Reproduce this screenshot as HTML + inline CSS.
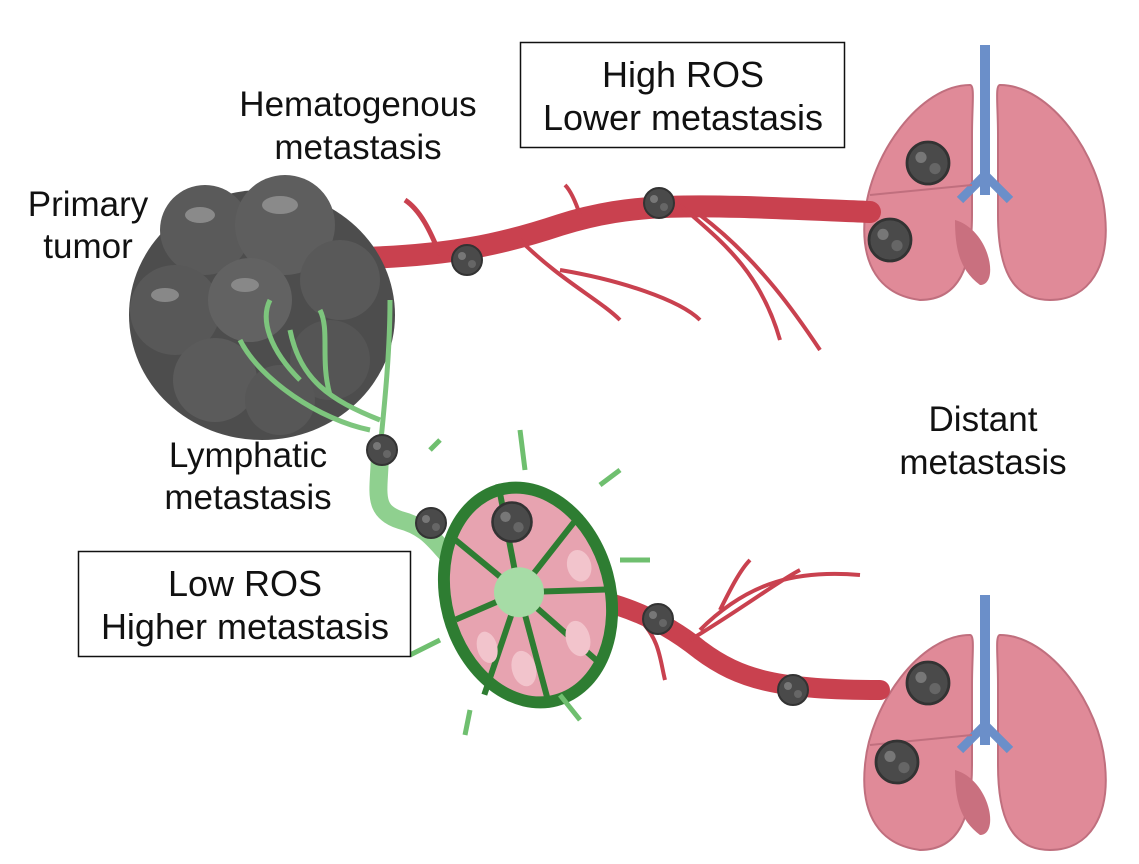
<!DOCTYPE html>
<html><head><meta charset="utf-8"><style>
html,body{margin:0;padding:0;background:#fff;}
svg{display:block;}
text{font-family:"Liberation Sans",Arial,sans-serif;fill:#111;}
</style></head><body>
<svg width="1139" height="864" viewBox="0 0 1139 864" xmlns="http://www.w3.org/2000/svg">
<defs>
<g id="lung">
  <rect x="120" y="0" width="10" height="150" fill="#6b8fc9"/>
  <path d="M110 40 C60 40 10 110 5 170 C0 220 20 250 60 255 C100 255 112 220 112 170 L112 90 C112 60 115 40 110 40 Z" fill="#e08a98" stroke="#c06f7e" stroke-width="2"/>
  <path d="M140 40 C190 40 240 110 245 170 C250 220 230 255 190 255 C150 255 138 220 138 170 L138 90 C138 60 135 40 140 40 Z" fill="#e08a98" stroke="#c06f7e" stroke-width="2"/>
  <path d="M125 130 L100 155 M125 130 L150 155" stroke="#6b8fc9" stroke-width="9" fill="none"/>
  <path d="M95 175 C130 185 140 240 120 240 C100 225 95 205 95 175Z" fill="#c9707f"/>
  <path d="M10 150 L112 140" stroke="#c06f7e" stroke-width="2"/>
</g>
<g id="cell">
  <circle r="15" fill="#4a4a4a"/><circle r="15" fill="none" stroke="#333" stroke-width="2"/>
  <circle cx="-5" cy="-4" r="4" fill="#777"/><circle cx="5" cy="4" r="4" fill="#666"/>
</g>
</defs>

<g transform="translate(860,45)"><use href="#lung"/></g>
<g transform="translate(860,595)"><use href="#lung"/></g>

<path d="M365 258 C450 255 500 245 560 225 C640 200 700 205 870 212" stroke="#c9414f" stroke-width="22" fill="none" stroke-linecap="round"/>
<path d="M440 255 C430 230 420 210 405 200" stroke="#c9414f" stroke-width="5" fill="none"/>
<path d="M520 240 C560 280 600 300 620 320 M560 270 C620 280 680 300 700 320 M580 215 C575 200 570 190 565 185 M680 205 C720 240 760 270 780 340 M700 215 C760 260 800 320 820 350" stroke="#c9414f" stroke-width="4" fill="none"/>

<path d="M510 585 C600 595 650 610 700 650 C740 680 780 690 880 690" stroke="#c9414f" stroke-width="20" fill="none" stroke-linecap="round"/>
<path d="M640 620 C660 640 660 660 665 680 M690 640 C740 610 780 580 800 570 M700 630 C750 580 800 570 860 575 M720 610 C730 590 740 570 750 560" stroke="#c9414f" stroke-width="4" fill="none"/>

<g>
<ellipse cx="262" cy="315" rx="133" ry="125" fill="#4d4d4d"/>
<circle cx="205" cy="230" r="45" fill="#5a5a5a"/><circle cx="285" cy="225" r="50" fill="#5e5e5e"/>
<circle cx="340" cy="280" r="40" fill="#595959"/><circle cx="175" cy="310" r="45" fill="#585858"/>
<circle cx="250" cy="300" r="42" fill="#626262"/><circle cx="330" cy="360" r="40" fill="#555"/>
<circle cx="215" cy="380" r="42" fill="#5b5b5b"/><circle cx="280" cy="400" r="35" fill="#575757"/>
<ellipse cx="200" cy="215" rx="15" ry="8" fill="#8a8a8a"/><ellipse cx="280" cy="205" rx="18" ry="9" fill="#8a8a8a"/>
<ellipse cx="245" cy="285" rx="14" ry="7" fill="#888"/><ellipse cx="165" cy="295" rx="14" ry="7" fill="#888"/>
</g>

<path d="M380 450 C380 490 370 510 400 520 C440 530 440 560 480 580" stroke="#8fd08f" stroke-width="18" fill="none" stroke-linecap="round"/>
<path d="M380 450 C385 400 390 350 390 300 M380 420 C330 400 300 380 290 330 M370 430 C320 420 260 380 240 340 M330 395 C320 360 330 330 320 310 M300 380 C270 350 260 320 270 300" stroke="#7dc57d" stroke-width="5" fill="none"/>

<g transform="rotate(-15 528 595)">
<ellipse cx="528" cy="595" rx="88" ry="115" fill="#2e7d32"/>
<ellipse cx="528" cy="595" rx="76" ry="103" fill="#e7a3b0"/>
<g stroke="#2e7d32" stroke-width="6">
<line x1="520" y1="590" x2="528" y2="480"/><line x1="520" y1="590" x2="600" y2="530"/>
<line x1="520" y1="590" x2="605" y2="610"/><line x1="520" y1="590" x2="580" y2="680"/>
<line x1="520" y1="590" x2="520" y2="705"/><line x1="520" y1="590" x2="460" y2="680"/>
<line x1="520" y1="590" x2="452" y2="600"/><line x1="520" y1="590" x2="470" y2="520"/>
</g>
<ellipse cx="565" cy="650" rx="12" ry="18" fill="#f2c4cc"/><ellipse cx="505" cy="665" rx="12" ry="18" fill="#f2c4cc"/>
<ellipse cx="585" cy="580" rx="12" ry="16" fill="#f2c4cc"/><ellipse cx="475" cy="635" rx="10" ry="16" fill="#f2c4cc"/>
<circle cx="520" cy="590" r="25" fill="#a6dca6"/>
</g>
<path d="M430 450 L440 440 M520 430 L525 470 M600 485 L620 470 M620 560 L650 560 M465 735 L470 710 M560 695 L580 720 M410 655 L440 640" stroke="#6fbf6f" stroke-width="5"/>

<use href="#cell" x="467" y="260"/>
<use href="#cell" x="659" y="203"/>
<use href="#cell" x="382" y="450"/>
<use href="#cell" x="431" y="523"/>
<use href="#cell" transform="translate(512 522) scale(1.3)"/>
<use href="#cell" x="658" y="619"/>
<use href="#cell" x="793" y="690"/>
<use href="#cell" transform="translate(928 163) scale(1.4)"/>
<use href="#cell" transform="translate(890 240) scale(1.4)"/>
<use href="#cell" transform="translate(928 683) scale(1.4)"/>
<use href="#cell" transform="translate(897 762) scale(1.4)"/>

<g font-size="35" text-anchor="middle">
<text x="358" y="116">Hematogenous</text>
<text x="358" y="159">metastasis</text>
<text x="88" y="216">Primary</text>
<text x="88" y="258">tumor</text>
<text x="248" y="467">Lymphatic</text>
<text x="248" y="509">metastasis</text>
<text x="983" y="431">Distant</text>
<text x="983" y="474">metastasis</text>
</g>
<rect x="520.5" y="42.5" width="324" height="105" fill="#fff" stroke="#111" stroke-width="1.5"/>
<g font-size="36" text-anchor="middle">
<text x="683" y="87">High ROS</text>
<text x="683" y="130">Lower metastasis</text>
</g>
<rect x="78.5" y="551.5" width="332" height="105" fill="#fff" stroke="#111" stroke-width="1.5"/>
<g font-size="36" text-anchor="middle">
<text x="245" y="596">Low ROS</text>
<text x="245" y="639">Higher metastasis</text>
</g>
</svg>
</body></html>
